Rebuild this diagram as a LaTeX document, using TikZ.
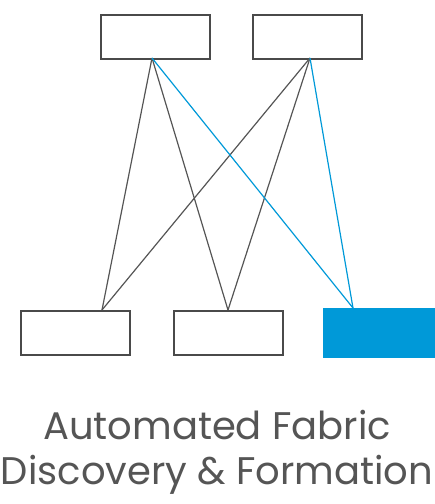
\documentclass[tikz,border=0pt]{standalone}
\usepackage{fontspec}
\setmainfont{Poppins}
\definecolor{boxgray}{HTML}{4A4A4A}
\definecolor{linegray}{HTML}{555555}
\definecolor{fabblue}{HTML}{0099D8}
\begin{document}
\begin{tikzpicture}[x=1pt,y=-1pt,
  sw/.style={draw=boxgray,line width=2.2pt,fill=white,minimum width=109pt,minimum height=44pt,inner sep=0pt,anchor=north west},
  bw/.style={fill=fabblue,minimum width=112pt,minimum height=50pt,inner sep=0pt,anchor=north west},
  gl/.style={draw=linegray,line width=1.2pt},
  bl/.style={draw=fabblue,line width=1.2pt},
  lbl/.style={text=linegray,font=\fontsize{38.5}{45}\selectfont,align=center,inner sep=0pt}]
\useasboundingbox (0,0) rectangle (435,504);
\node[sw] (t1) at (100,14) {};
\node[sw] (t2) at (252,14) {};
\node[sw] (b1) at (20,310) {};
\node[sw] (b2) at (173,310) {};
\node[bw] (b3) at (323,308) {};
\coordinate (t1p) at (152,58);
\coordinate (t2p) at (310,58);
\coordinate (b1p) at (102,310);
\coordinate (b2p) at (228,310);
\coordinate (b3p) at (353,308);
\draw[gl] (t1p) -- (b1p);
\draw[gl] (t1p) -- (b2p);
\draw[gl] (t2p) -- (b1p);
\draw[gl] (t2p) -- (b2p);
\draw[bl] (t1p) -- (b3p);
\draw[bl] (t2p) -- (b3p);
\node[lbl] (cap) at (217,452) {Automated Fabric\\Discovery \& Formation};
\end{tikzpicture}
\end{document}
